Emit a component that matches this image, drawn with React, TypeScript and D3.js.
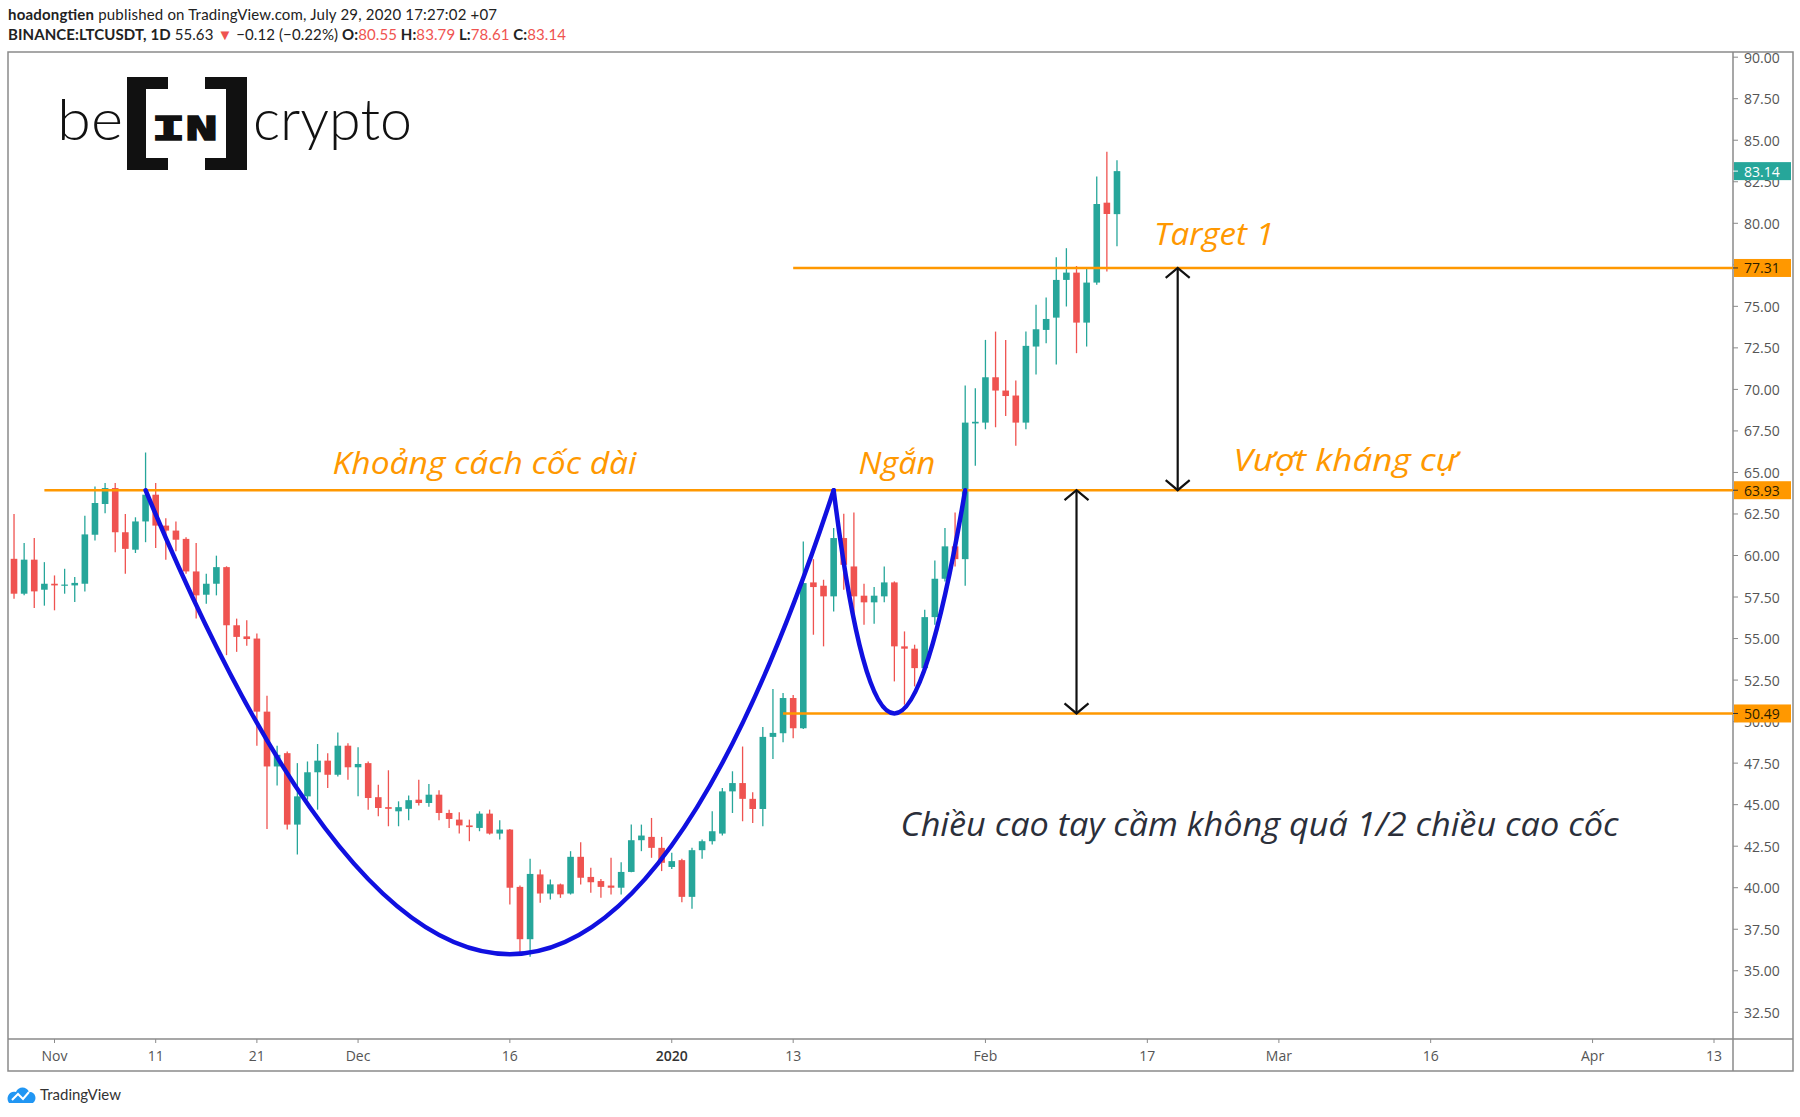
import React, { useEffect } from 'react';
import * as d3 from 'd3';

// ---------- DATA ----------
const candleDates = [
  '2019-10-28','2019-10-29','2019-10-30','2019-10-31','2019-11-01','2019-11-02','2019-11-03','2019-11-04','2019-11-05','2019-11-06',
  '2019-11-07','2019-11-08','2019-11-09','2019-11-10','2019-11-11','2019-11-12','2019-11-13','2019-11-14','2019-11-15','2019-11-16',
  '2019-11-17','2019-11-18','2019-11-19','2019-11-20','2019-11-21','2019-11-22','2019-11-23','2019-11-24','2019-11-25','2019-11-26',
  '2019-11-27','2019-11-28','2019-11-29','2019-11-30','2019-12-01','2019-12-02','2019-12-03','2019-12-04','2019-12-05','2019-12-06',
  '2019-12-07','2019-12-08','2019-12-09','2019-12-10','2019-12-11','2019-12-12','2019-12-13','2019-12-14','2019-12-15','2019-12-16',
  '2019-12-17','2019-12-18','2019-12-19','2019-12-20','2019-12-21','2019-12-22','2019-12-23','2019-12-24','2019-12-25','2019-12-26',
  '2019-12-27','2019-12-28','2019-12-29','2019-12-30','2019-12-31','2020-01-01','2020-01-02','2020-01-03','2020-01-04','2020-01-05',
  '2020-01-06','2020-01-07','2020-01-08','2020-01-09','2020-01-10','2020-01-11','2020-01-12','2020-01-13','2020-01-14','2020-01-15',
  '2020-01-16','2020-01-17','2020-01-18','2020-01-19','2020-01-20','2020-01-21','2020-01-22','2020-01-23','2020-01-24','2020-01-25',
  '2020-01-26','2020-01-27','2020-01-28','2020-01-29','2020-01-30','2020-01-31','2020-02-01','2020-02-02','2020-02-03','2020-02-04',
  '2020-02-05','2020-02-06','2020-02-07','2020-02-08','2020-02-09','2020-02-10','2020-02-11','2020-02-12','2020-02-13','2020-02-14',
];
const openPrices = [
  59.8, 57.7, 59.75, 57.94, 58.3, 58.2, 58.2, 58.3, 61.25, 63.1,
  64.06, 61.4, 60.35, 62.05, 63.66, 61.8, 61.5, 61.0, 59.04, 57.64,
  58.3, 59.3, 55.8, 55.13, 55.0, 50.6, 47.3, 48.1, 43.8, 45.5,
  46.95, 47.65, 46.8, 48.55, 47.25, 47.5, 45.45, 44.85, 44.6, 44.75,
  45.3, 45.1, 45.6, 44.5, 44.1, 43.75, 43.6, 44.46, 43.26, 43.5,
  40.05, 36.9, 40.8, 39.65, 40.2, 39.65, 41.86, 40.65, 40.4, 40.13,
  40.0, 40.95, 42.86, 43.06, 42.4, 41.25, 41.66, 39.45, 42.26, 42.8,
  43.26, 45.8, 46.3, 45.35, 44.74, 49.08, 49.3, 51.42, 49.6, 58.38,
  58.18, 57.54, 61.05, 59.34, 57.58, 57.18, 57.54, 58.38, 54.53, 54.39,
  53.22, 56.29, 58.6, 60.55, 59.78, 67.95, 68.0, 70.73, 69.93, 69.63,
  68.0, 72.58, 73.58, 74.32, 76.59, 77.03, 74.02, 76.43, 81.24, 80.55,
];
const highPrices = [
  62.5, 60.75, 61.05, 59.6, 58.8, 59.2, 58.7, 62.4, 64.16, 64.36,
  64.36, 62.5, 62.3, 66.2, 64.36, 62.25, 62.05, 61.1, 60.75, 58.9,
  59.99, 59.35, 56.2, 56.1, 55.3, 51.56, 48.55, 48.2, 47.5, 47.6,
  48.65, 48.1, 49.35, 48.7, 48.45, 47.6, 46.2, 47.07, 45.2, 45.55,
  46.5, 46.25, 45.87, 44.7, 44.54, 44.1, 44.6, 44.7, 44.06, 43.54,
  40.13, 41.74, 41.1, 40.5, 40.25, 42.2, 42.74, 41.2, 40.53, 41.8,
  41.54, 43.8, 43.8, 44.2, 43.06, 42.1, 41.74, 42.4, 42.9, 44.6,
  46.0, 47.01, 48.5, 45.75, 49.68, 51.97, 51.72, 51.6, 60.85, 59.78,
  58.54, 61.65, 62.51, 62.59, 58.3, 58.1, 59.34, 58.44, 55.43, 54.63,
  56.73, 59.7, 61.65, 62.59, 70.23, 70.07, 72.98, 73.48, 72.98, 70.53,
  73.48, 75.09, 75.53, 77.95, 78.5, 77.43, 77.33, 82.81, 84.31, 83.79,
];
const lowPrices = [
  57.4, 57.6, 56.84, 56.98, 56.7, 57.7, 57.2, 57.84, 60.9, 62.55,
  60.2, 58.9, 60.15, 60.8, 60.45, 59.75, 60.25, 58.9, 56.2, 57.1,
  57.6, 54.0, 54.2, 54.57, 48.55, 43.54, 46.15, 43.5, 42.0, 45.3,
  44.7, 46.0, 46.7, 46.5, 45.5, 44.7, 44.3, 43.7, 43.7, 44.06,
  44.95, 44.87, 44.06, 43.6, 43.26, 42.8, 43.4, 43.2, 42.9, 38.99,
  36.08, 35.84, 39.09, 39.29, 39.39, 39.59, 40.19, 39.69, 39.39, 39.59,
  39.59, 40.93, 42.2, 41.8, 41.0, 41.13, 39.13, 38.73, 41.74, 42.6,
  43.14, 44.5, 44.0, 43.9, 43.7, 47.75, 48.76, 49.0, 49.55, 55.23,
  54.53, 56.63, 57.94, 55.83, 55.83, 55.89, 57.18, 52.42, 51.02, 52.12,
  53.1, 55.83, 58.44, 59.34, 58.18, 65.4, 67.6, 67.72, 68.4, 66.6,
  67.6, 70.9, 72.78, 71.5, 74.99, 72.18, 72.58, 76.3, 77.09, 78.61,
];
const closePrices = [
  57.7, 59.75, 57.84, 58.3, 58.2, 58.25, 58.35, 61.27, 63.16, 64.06,
  61.4, 60.4, 62.05, 63.66, 61.8, 61.5, 60.95, 59.04, 57.6, 58.3,
  59.3, 55.8, 55.1, 54.97, 50.6, 47.3, 48.0, 43.8, 45.5, 46.95,
  47.65, 46.8, 48.55, 47.25, 47.45, 45.4, 44.8, 44.75, 44.85, 45.27,
  45.1, 45.6, 44.5, 44.14, 43.75, 43.65, 44.46, 43.26, 43.5, 40.0,
  36.9, 40.83, 39.65, 40.2, 39.6, 41.86, 40.6, 40.33, 40.05, 40.0,
  40.95, 42.86, 43.14, 42.4, 41.5, 41.6, 39.45, 42.26, 42.8, 43.4,
  45.8, 46.3, 45.35, 44.74, 49.08, 49.32, 51.42, 49.6, 58.34, 58.1,
  57.54, 61.05, 59.44, 57.54, 57.18, 57.58, 58.38, 54.53, 54.39, 53.22,
  56.29, 58.6, 60.55, 59.78, 68.0, 68.05, 70.73, 69.93, 69.6, 68.0,
  72.62, 73.62, 74.24, 76.59, 77.03, 74.02, 76.43, 81.16, 80.56, 83.14,
];

const priceTickValues = [32.5, 35, 37.5, 40, 42.5, 45, 47.5, 50, 52.5, 55, 57.5, 60, 62.5, 65, 67.5, 70, 72.5, 75, 77.5, 80, 82.5, 85, 87.5, 90];
const dateTickDates = ['2019-11-01','2019-11-11','2019-11-21','2019-12-01','2019-12-16','2020-01-01','2020-01-13','2020-02-01','2020-02-17','2020-03-01','2020-03-16','2020-04-01','2020-04-13'];
const dateTickLabels = ['Nov','11','21','Dec','16','2020','13','Feb','17','Mar','16','Apr','13'];

const levelPrices = [77.31, 63.93, 50.49];
const levelStartDates = ['2020-01-13', '2019-10-31', '2020-01-12'];
const lastClose = 83.14;

const cupDates = ['2019-11-10', '2019-12-16', '2020-01-17'];
const cupPrices = [63.93, 36.0, 63.93];
const handleDates = ['2020-01-17', '2020-01-23', '2020-01-30'];
const handlePrices = [63.93, 50.49, 63.93];

const arrowDates = ['2020-02-20', '2020-02-10'];
const arrowTopPrices = [77.31, 63.93];
const arrowBottomPrices = [63.93, 50.49];

const orangeNotes = ['Khoảng cách cốc dài', 'Ngắn', 'Vượt kháng cự', 'Target 1'];
const orangeNoteDates = ['2019-12-13T12:00', '2020-01-23T06:00', '2020-03-07T14:00', '2020-02-23T14:00'];
const orangeNotePrices = [64.9, 64.9, 65.1, 78.7];
const orangeNoteWidths = [304, 77, 224, 120];
const handleNote = 'Chiều cao tay cầm không quá 1/2 chiều cao cốc';
const handleNoteDate = '2020-02-28T02:00';
const handleNotePrice = 43.1;

// ---------- LAYOUT ----------
const W = 1800, H = 1117;
const plotL = 8, plotT = 52, plotR = 1733, plotB = 1039, frameR = 1793, frameB = 1071;
const GREEN = '#26a69a', RED = '#ef5350', ORANGE = '#ff9800', BLUE = '#1010e0';

const parse = (s: string) => new Date(s.length > 10 ? s + ':00Z' : s + 'T00:00:00Z');

const x = d3.scaleUtc().domain([parse('2019-11-01'), parse('2020-04-13')]).range([54.5, 1714]);
const y = d3.scaleLinear().domain([32.5, 87.5]).range([1012.3, 98.7]);

function quadThrough(dates: string[], prices: number[]) {
  const p0 = [x(parse(dates[0])), y(prices[0])];
  const v = [x(parse(dates[1])), y(prices[1])];
  const p2 = [x(parse(dates[2])), y(prices[2])];
  const c = [2 * v[0] - (p0[0] + p2[0]) / 2, 2 * v[1] - (p0[1] + p2[1]) / 2];
  const p = d3.path();
  p.moveTo(p0[0], p0[1]);
  p.quadraticCurveTo(c[0], c[1], p2[0], p2[1]);
  return p.toString();
}

function Arrow({ date, top, bottom }: { date: string; top: number; bottom: number }) {
  const ax = x(parse(date));
  const y1 = y(top), y2 = y(bottom);
  const hw = 12, hh = 10;
  return (
    <g stroke="#111" strokeWidth={2.2} fill="none">
      <line x1={ax} y1={y1} x2={ax} y2={y2} />
      <polyline points={`${ax - hw},${y1 + hh} ${ax},${y1} ${ax + hw},${y1 + hh}`} />
      <polyline points={`${ax - hw},${y2 - hh} ${ax},${y2} ${ax + hw},${y2 - hh}`} />
    </g>
  );
}

export default function App() {
  useEffect(() => {
    document.body.style.margin = '0';
    document.body.style.overflow = 'hidden';
  }, []);

  const bodyW = 6.6;
  const candles = candleDates.map((d, i) => ({
    cx: x(parse(d)),
    o: openPrices[i], h: highPrices[i], l: lowPrices[i], c: closePrices[i],
  }));

  const axisFont = "'Open Sans', 'DejaVu Sans', sans-serif";
  const noteFont = "'Open Sans', 'Noto Sans', sans-serif";

  return (
    <svg width={W} height={H} style={{ position: 'absolute', left: 0, top: 0, display: 'block', background: '#fff' }}>
      <defs>
        <clipPath id="plotClip">
          <rect x={plotL} y={plotT} width={plotR - plotL} height={plotB - plotT} />
        </clipPath>
      </defs>
      <rect x={0} y={0} width={W} height={H} fill="#fff" />

      {/* Header */}
      <text x={8} y={20} fontFamily="Lato, 'Open Sans', sans-serif" fontSize={15} fill="#222" textLength={489} lengthAdjust="spacing">
        <tspan fontWeight={700}>hoadongtien</tspan>
        <tspan> published on TradingView.com, July 29, 2020 17:27:02 +07</tspan>
      </text>
      <text x={8} y={40} fontFamily="Lato, 'Open Sans', sans-serif" fontSize={15} fill="#222" textLength={558} lengthAdjust="spacing">
        <tspan fontWeight={700}>BINANCE:LTCUSDT, 1D</tspan>
        <tspan> 55.63 </tspan>
        <tspan fill={RED}>▼</tspan>
        <tspan> −0.12 (−0.22%) </tspan>
        <tspan fontWeight={700}>O:</tspan><tspan fill={RED}>80.55</tspan>
        <tspan fontWeight={700}> H:</tspan><tspan fill={RED}>83.79</tspan>
        <tspan fontWeight={700}> L:</tspan><tspan fill={RED}>78.61</tspan>
        <tspan fontWeight={700}> C:</tspan><tspan fill={RED}>83.14</tspan>
      </text>

      {/* Frame */}
      <g stroke="#8a8a8a" strokeWidth={1.5} fill="none">
        <rect x={plotL} y={plotT} width={frameR - plotL} height={frameB - plotT} />
        <line x1={plotR} y1={plotT} x2={plotR} y2={frameB} />
        <line x1={plotL} y1={plotB} x2={frameR} y2={plotB} />
      </g>

      {/* Logo */}
      <g>
        <text x={57} y={140} fontFamily="Lato, sans-serif" fontWeight={300} fontSize={58} fill="#111" textLength={66} lengthAdjust="spacingAndGlyphs">be</text>
        <path d="M127,77 H168 V89 H146 V158 H168 V170 H127 Z" fill="#111" />
        <path d="M247,77 H205 V89 H226 V158 H205 V170 H247 Z" fill="#111" />
        <text x={152} y={140} fontFamily="'Liberation Mono', 'DejaVu Sans Mono', monospace" fontWeight={700} fontSize={37}
          fill="#111" stroke="#111" strokeWidth={1.6} textLength={66} lengthAdjust="spacingAndGlyphs">IN</text>
        <text x={253} y={140} fontFamily="Lato, sans-serif" fontWeight={300} fontSize={58} fill="#111" textLength={159} lengthAdjust="spacingAndGlyphs">crypto</text>
      </g>

      {/* Plot contents */}
      <g clipPath="url(#plotClip)">
        {candles.map((k, i) => {
          const up = k.c >= k.o;
          const col = up ? GREEN : RED;
          const top = y(Math.max(k.o, k.c));
          const bot = y(Math.min(k.o, k.c));
          return (
            <g key={i}>
              <line x1={k.cx} x2={k.cx} y1={y(k.h)} y2={y(k.l)} stroke={col} strokeWidth={1.3} />
              <rect x={k.cx - bodyW / 2} y={top} width={bodyW} height={Math.max(1.2, bot - top)} fill={col} />
            </g>
          );
        })}

        {levelPrices.map((p, i) => (
          <line key={i} x1={x(parse(levelStartDates[i]))} x2={plotR} y1={y(p)} y2={y(p)} stroke={ORANGE} strokeWidth={2.6} />
        ))}

        <path d={quadThrough(cupDates, cupPrices)} fill="none" stroke={BLUE} strokeWidth={4.5} strokeLinecap="round" />
        <path d={quadThrough(handleDates, handlePrices)} fill="none" stroke={BLUE} strokeWidth={4.5} strokeLinecap="round" />

        {arrowDates.map((d, i) => (
          <Arrow key={i} date={d} top={arrowTopPrices[i]} bottom={arrowBottomPrices[i]} />
        ))}

        {orangeNotes.map((t, i) => (
          <text key={i} x={x(parse(orangeNoteDates[i]))} y={y(orangeNotePrices[i])} textAnchor="middle"
            fontFamily={noteFont} fontStyle="italic" fontSize={31} fill={ORANGE}
            textLength={orangeNoteWidths[i]} lengthAdjust="spacingAndGlyphs">{t}</text>
        ))}
        <text x={x(parse(handleNoteDate))} y={y(handleNotePrice)} textAnchor="middle"
          fontFamily={noteFont} fontStyle="italic" fontSize={33} fill="#2b2f3a"
          textLength={718} lengthAdjust="spacingAndGlyphs">{handleNote}</text>
      </g>

      {/* Price axis */}
      <g fontFamily={axisFont} fontSize={14} fill="#555">
        {priceTickValues.map((v, i) => {
          const ty = y(v);
          if (ty < plotT + 2 || ty > plotB - 2) return null;
          return (
            <g key={i}>
              <line x1={plotR} x2={plotR + 5} y1={ty} y2={ty} stroke="#8a8a8a" strokeWidth={1} />
              <text x={plotR + 11} y={ty} dominantBaseline="central">{v.toFixed(2)}</text>
            </g>
          );
        })}
      </g>
      {levelPrices.map((p, i) => (
        <g key={i}>
          <rect x={plotR + 1} y={y(p) - 9} width={57} height={18} fill={ORANGE} />
          <line x1={plotR} x2={plotR + 5} y1={y(p)} y2={y(p)} stroke="#333" strokeWidth={1} />
          <text x={plotR + 11} y={y(p)} dominantBaseline="central" fontFamily={axisFont} fontSize={14} fill="#2a1d00">{p.toFixed(2)}</text>
        </g>
      ))}
      <g>
        <rect x={plotR + 1} y={y(lastClose) - 9} width={57} height={18} fill={GREEN} />
        <line x1={plotR} x2={plotR + 5} y1={y(lastClose)} y2={y(lastClose)} stroke="#fff" strokeWidth={1} />
        <text x={plotR + 11} y={y(lastClose)} dominantBaseline="central" fontFamily={axisFont} fontSize={14} fill="#fff">{lastClose.toFixed(2)}</text>
      </g>

      {/* Time axis */}
      <g fontFamily={axisFont} fontSize={14} fill="#555">
        {dateTickDates.map((d, i) => {
          const tx = x(parse(d));
          return (
            <g key={i}>
              <line x1={tx} x2={tx} y1={plotB} y2={plotB + 4} stroke="#8a8a8a" strokeWidth={1} />
              <text x={tx} y={1061} textAnchor="middle" fontWeight={dateTickLabels[i] === '2020' ? 600 : 400}
                fill={dateTickLabels[i] === '2020' ? '#333' : '#555'}>{dateTickLabels[i]}</text>
            </g>
          );
        })}
      </g>

      {/* Footer */}
      <g>
        <path d="M9,1103 C5,1097 10,1090 16,1092 C18,1086 27,1086 29,1092 C35,1091 38,1099 33,1103 Z" fill="#2196f3" />
        <polyline points="12,1100 18,1094 23,1099 29,1092" fill="none" stroke="#fff" strokeWidth={2} />
        <text x={40} y={1100} fontFamily="Lato, 'Open Sans', sans-serif" fontSize={15} fill="#333">TradingView</text>
      </g>
    </svg>
  );
}
